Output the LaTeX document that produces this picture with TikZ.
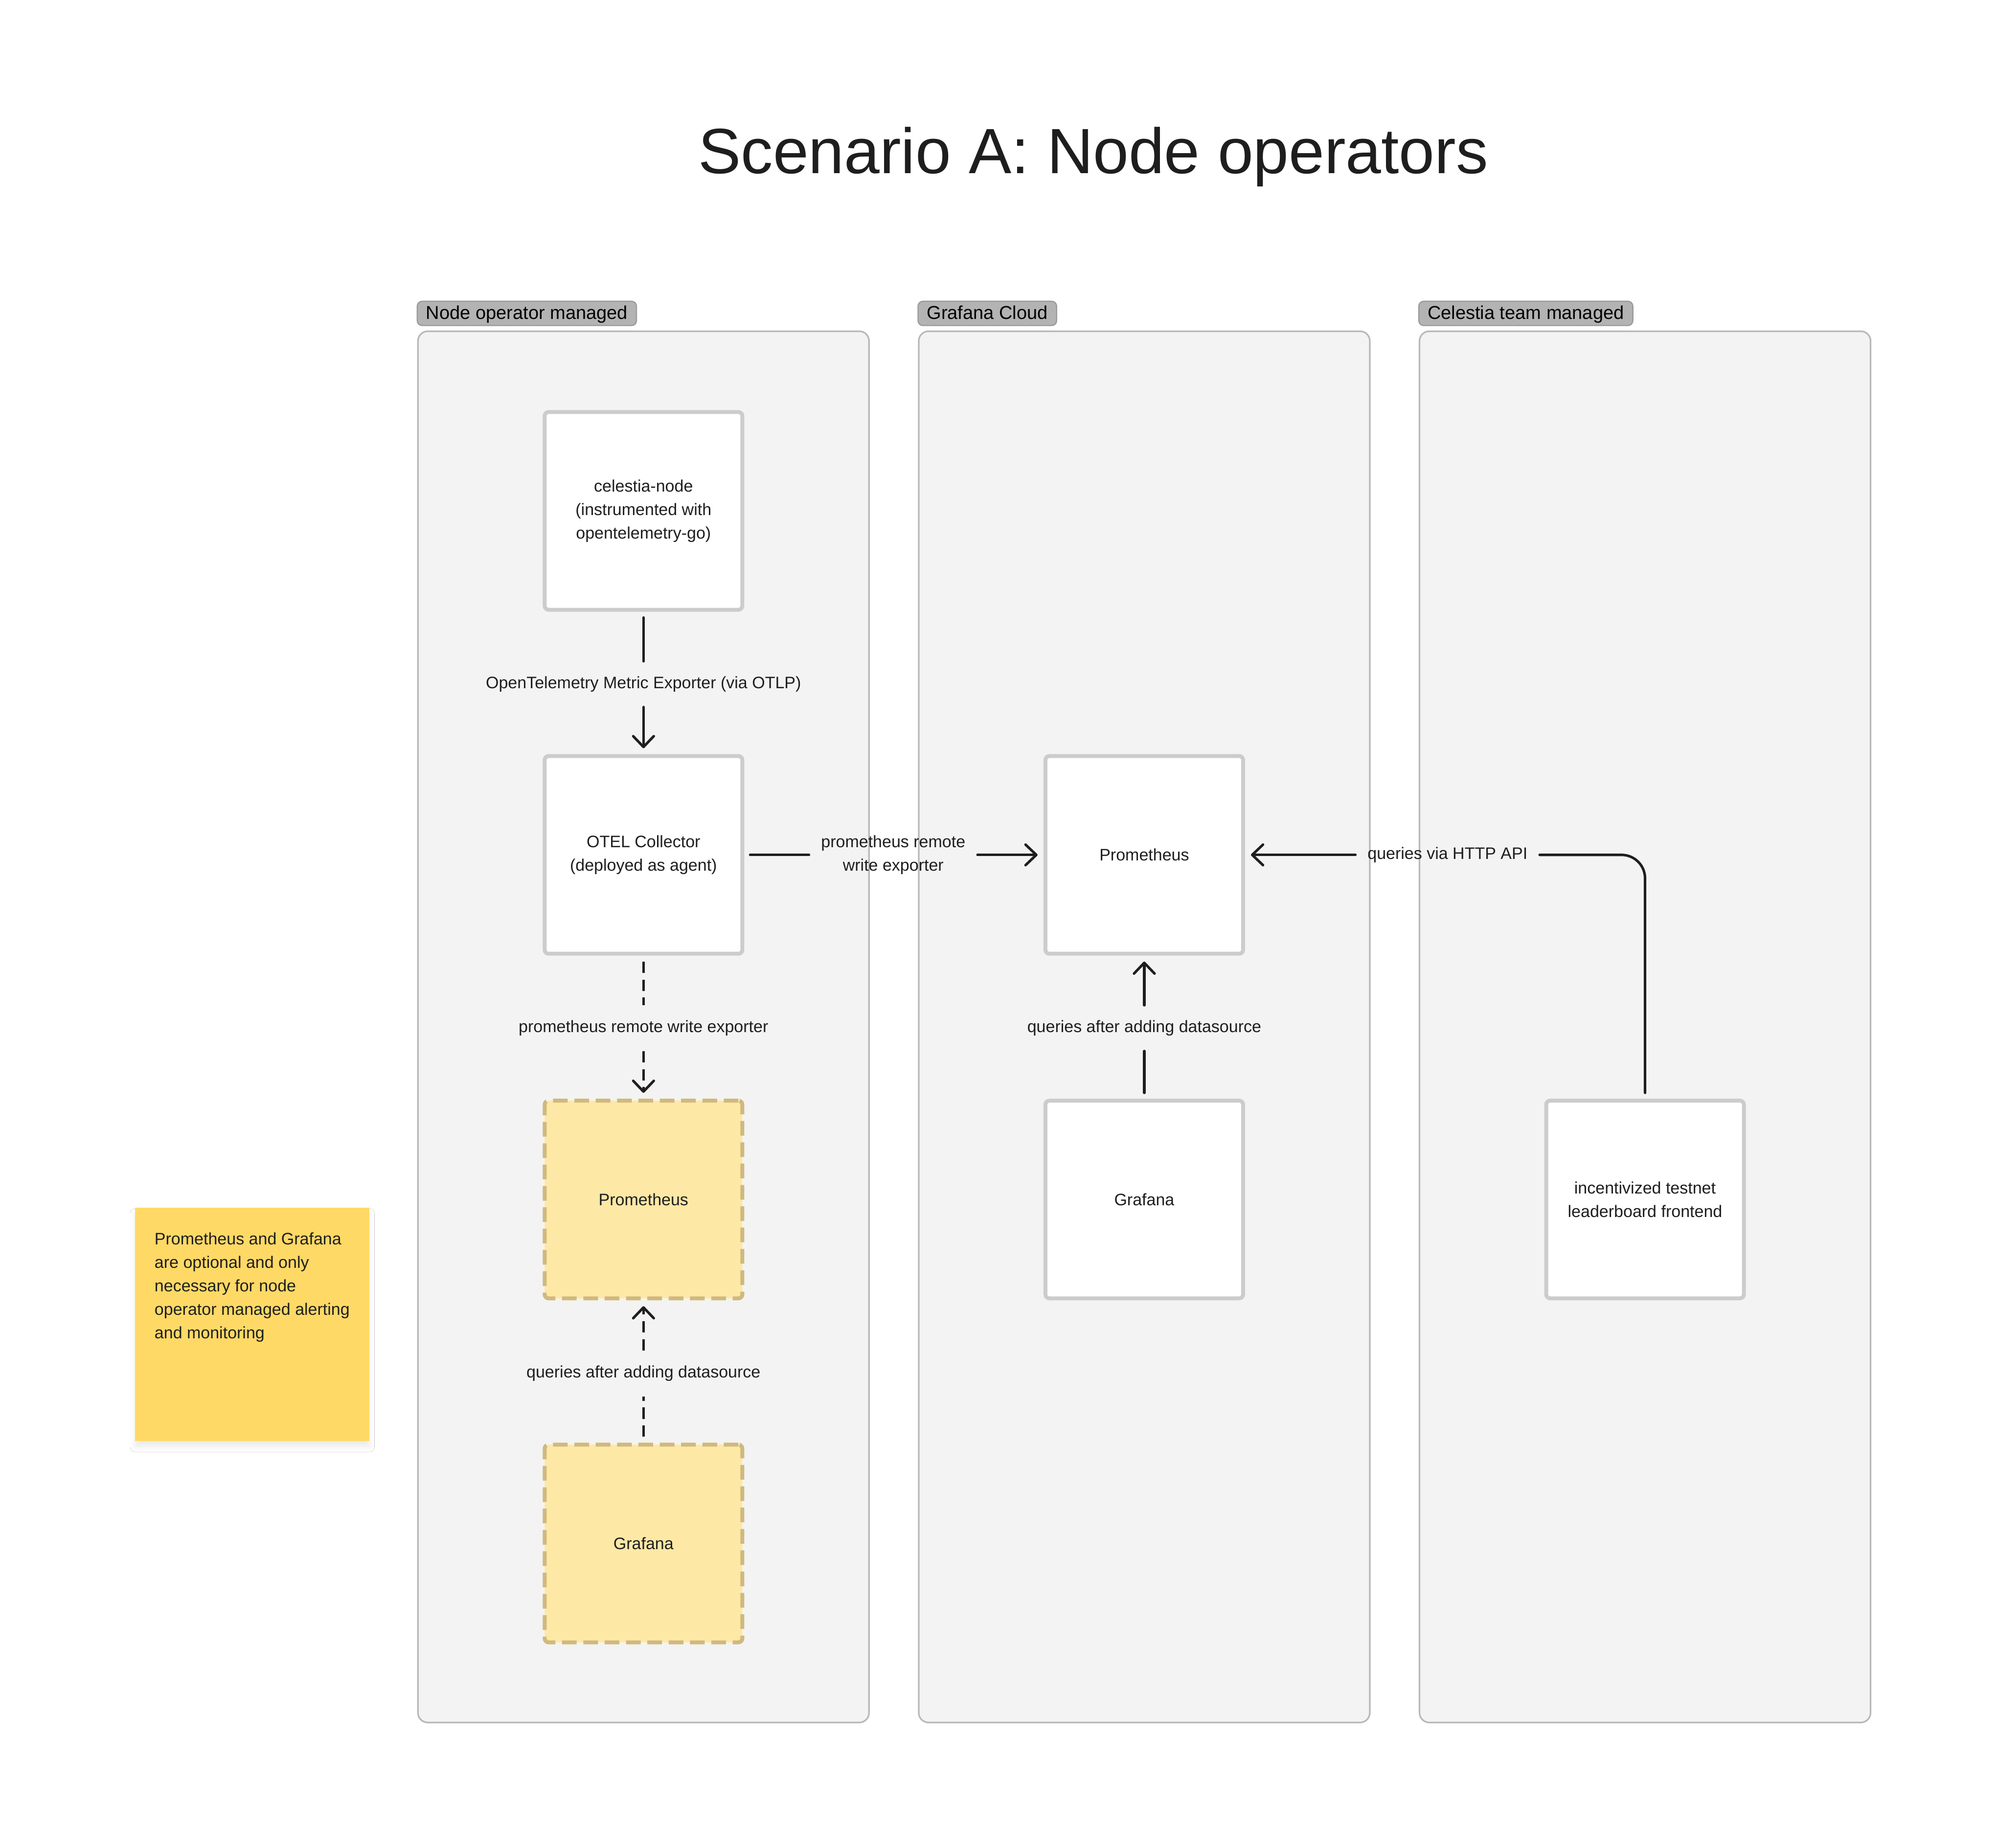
\documentclass[tikz,border=0pt]{standalone}
\usepackage{fontspec}
\setmainfont{Liberation Sans}
\usetikzlibrary{arrows.meta,shadows.blur}
\definecolor{ink}{HTML}{1E1E1E}
\definecolor{contfill}{HTML}{F3F3F3}
\definecolor{contline}{HTML}{B8B8B8}
\definecolor{tabfill}{HTML}{B3B3B3}
\definecolor{tabline}{HTML}{9A9A9A}
\definecolor{boxline}{HTML}{CCCCCC}
\definecolor{yfill}{HTML}{FEE8A5}
\definecolor{yline}{HTML}{CFB97E}
\definecolor{sticky}{HTML}{FFD966}
\begin{document}
\begin{tikzpicture}[x=0.651pt,y=-0.651pt,
  cont/.style={draw=contline, line width=0.8pt, fill=contfill, rounded corners=5pt},
  tab/.style={draw=tabline, line width=0.6pt, fill=tabfill, rounded corners=2.5pt, anchor=west,
    font=\fontsize{9.5}{11}\selectfont, text=black, inner xsep=4.5pt, inner ysep=0pt,
    text height=7pt, text depth=1.2pt, minimum height=12.4pt},
  box/.style={draw=boxline, line width=2pt, fill=white, rounded corners=2pt,
    minimum width=101pt, minimum height=101pt, align=center,
    font=\fontsize{8.5}{12}\selectfont, text=ink, inner sep=2pt},
  ybox/.style={box, fill=yfill, draw=yline, dash pattern=on 7.5pt off 3.4pt},
  elabel/.style={font=\fontsize{8.5}{12}\selectfont, text=ink, align=center,
    inner xsep=6pt, inner ysep=0pt, minimum height=23pt},
  conn/.style={draw=ink, line width=1.3pt, line cap=round, line join=round},
  arr/.style={conn, -{Straight Barb[length=5.5pt,width=10.5pt,round]}, shorten >=3pt},
  dashpat/.style={line cap=butt, dash pattern=on 5.8pt off 3.4pt},
  startgap/.style={shorten <=3pt}
]
\useasboundingbox[fill=white] (0,0) rectangle (1568,1450.5);

% title
\node[font=\fontsize{32.7}{38}\selectfont, text=ink] (title) at (858,123) {Scenario A: Node operators};

% containers
\draw[cont] (328,260) rectangle (682,1352);
\draw[cont] (721,260) rectangle (1075,1352);
\draw[cont] (1114,260) rectangle (1468,1352);
\node[tab] (tab1) at (327,246) {Node operator managed};
\node[tab] (tab2) at (720,246) {Grafana Cloud};
\node[tab] (tab3) at (1113,246) {Celestia team managed};

% boxes
\node[box] (cel) at (505,401) {celestia-node\\(instrumented with\\opentelemetry-go)};
\node[box] (otel) at (505,671) {OTEL Collector\\(deployed as agent)};
\node[ybox] (promy) at (505,941.5) {Prometheus};
\node[ybox] (grafy) at (505,1211.5) {Grafana};
\node[box] (prom) at (898,671) {Prometheus};
\node[box] (graf) at (898,941.5) {Grafana};
\node[box] (inc) at (1291,941.5) {incentivized testnet\\leaderboard frontend};

% sticky note
\node[fill=sticky, minimum width=119.8pt, minimum height=119.2pt, inner sep=0pt,
  blur shadow={shadow xshift=0pt, shadow yshift=-3pt, shadow blur radius=2.5pt, shadow blur steps=8, shadow opacity=8}]
  (note) at (198,1039.5) {};
\node[anchor=north west, align=left, font=\fontsize{8.5}{12}\selectfont, text=ink, inner sep=0pt]
  (notetext) at (121,967) {Prometheus and Grafana\\are optional and only\\necessary for node\\operator managed alerting\\and monitoring};

% edge labels
\node[elabel] (l1) at (505,537) {OpenTelemetry Metric Exporter (via OTLP)};
\node[elabel] (l2) at (505,807) {prometheus remote write exporter};
\node[elabel] (l3) at (505,1078) {queries after adding datasource};
\node[elabel] (l4) at (701,671) {prometheus remote\\write exporter};
\node[elabel] (l5) at (898,807) {queries after adding datasource};
\node[elabel] (l6) at (1136,671) {queries via HTTP API};

% connectors
\draw[conn, startgap] (cel.south) -- (l1.north);
\draw[arr] (l1.south) -- (otel.north);

\draw[conn, dashpat, startgap] (otel.south) -- (l2.north);
\draw[arr, dashpat] (l2.south) -- (promy.north);

\draw[conn, dashpat, startgap] (grafy.north) -- (l3.south);
\draw[arr, dashpat] (l3.north) -- (promy.south);

\draw[conn, startgap] (otel.east) -- (l4.west);
\draw[arr] (l4.east) -- (prom.west);

\draw[conn, startgap] (graf.north) -- (l5.south);
\draw[arr] (l5.north) -- (prom.south);

\draw[conn, startgap, rounded corners=12pt] (inc.north) |- (l6.east);
\draw[arr] (l6.west) -- (prom.east);
\end{tikzpicture}
\end{document}
